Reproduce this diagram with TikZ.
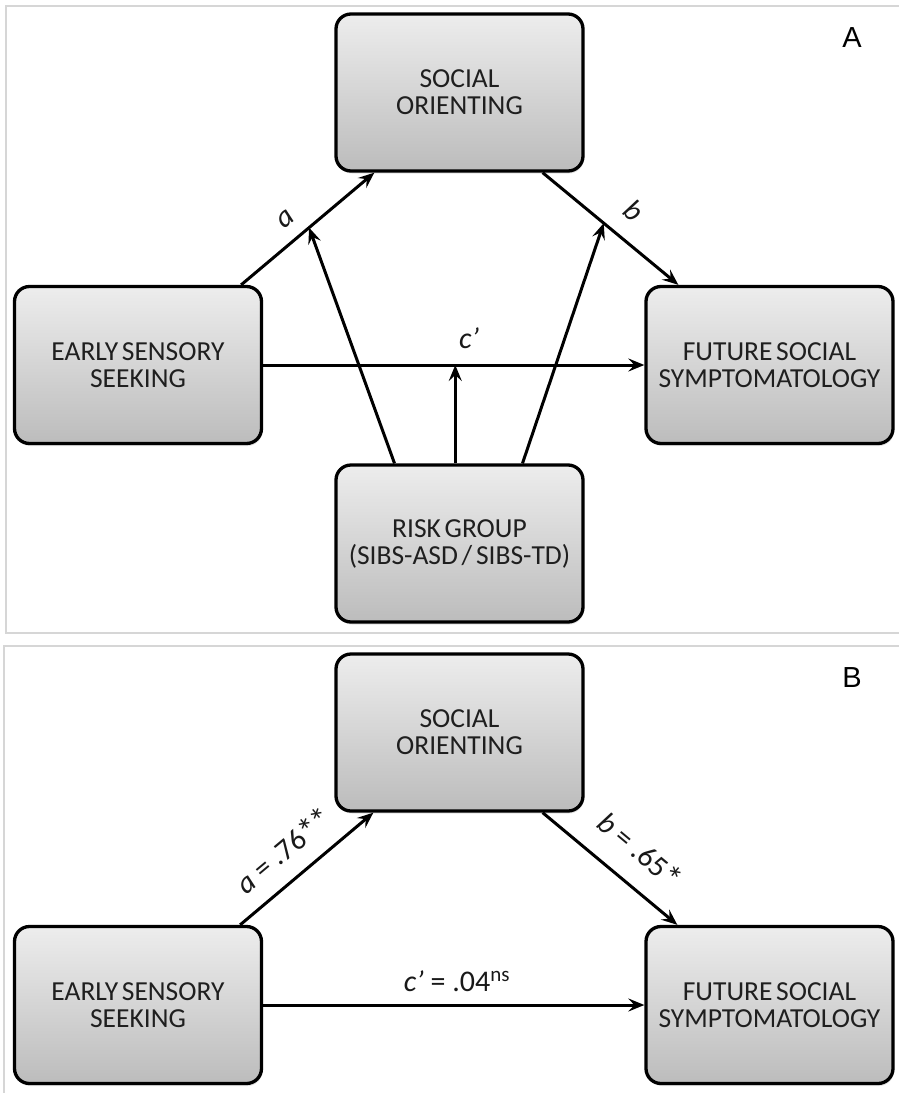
\documentclass[tikz,border=0pt]{standalone}
\usepackage{fontspec}
\setmainfont{Carlito}
\newfontfamily\boxfont[WordSpace=0.6]{Carlito}
\newfontfamily\lettfont{Liberation Sans}
\usetikzlibrary{arrows.meta,shadows}
\definecolor{frameg}{HTML}{D6D6D6}
\definecolor{boxtop}{HTML}{EDEDED}
\definecolor{boxbot}{HTML}{BCBCBC}
\newcommand\bigast{\raisebox{-0.1em}{\fontsize{35}{35}\selectfont *}}
\tikzset{
  box/.style={draw=black, line width=3.3pt, rounded corners=15pt,
    top color=boxtop, bottom color=boxbot,
    minimum width=247pt, minimum height=157pt, align=center,
    font=\boxfont\fontsize{27.5}{27}\selectfont, text=black!88,
    drop shadow={opacity=0.22, shadow xshift=1pt, shadow yshift=-2.5pt}},
  conn/.style={line width=3pt, -{Stealth[length=16pt,width=13pt,inset=6pt]}},
  lab/.style={font=\fontsize{30}{30}\selectfont, inner sep=0pt, text=black!90},
  panel/.style={draw=frameg, line width=1.6pt},
  letter/.style={font=\lettfont\fontsize{29}{30}\selectfont, inner sep=0pt}
}
\begin{document}
\begin{tikzpicture}[x=1pt,y=-1pt]
\useasboundingbox (0,0) rectangle (899,1093);
\fill[white] (0,0) rectangle (899,1093);
% panels
\draw[panel] (6,6) rectangle (906,633);
\draw[panel] (4,646) rectangle (906,1100);
\node[letter] (LA) at (852,38) {A};
\node[letter] (LB) at (852,678) {B};

% ---------- Panel A ----------
\node[box] (SA) at (459.5,92.5) {SOCIAL\\ORIENTING};
\node[box] (EA) at (138,365) {EARLY SENSORY\\SEEKING};
\node[box] (FA) at (769.5,365) {FUTURE SOCIAL\\SYMPTOMATOLOGY};
\node[box] (RA) at (459.5,543.5) {RISK GROUP\\(SIBS-ASD / SIBS-TD)};

\draw[conn] ([xshift=-22pt]EA.north east) -- ([xshift=40pt]SA.south west) coordinate[pos=0.51] (am);
\draw[conn] ([xshift=-42pt]SA.south east) -- ([xshift=34pt]FA.north west) coordinate[pos=0.45] (bm);
\draw[conn] (EA.east) -- (FA.west) coordinate[pos=0.504] (cm);
\draw[conn] ([xshift=-65pt]RA.north) -- (am);
\draw[conn] (RA.north -| cm) -- (cm);
\draw[conn] ([xshift=63pt]RA.north) -- (bm);

\node[lab, rotate=40] (la) at (286,219) {\itshape a};
\node[lab, rotate=-40] (lb) at (634,211) {\itshape b};
\node[lab, anchor=base] (lc) at (469,348) {\itshape c’};

% ---------- Panel B ----------
\node[box] (SB) at (459.5,732.5) {SOCIAL\\ORIENTING};
\node[box] (EB) at (138,1005) {EARLY SENSORY\\SEEKING};
\node[box] (FB) at (769.5,1005) {FUTURE SOCIAL\\SYMPTOMATOLOGY};

\draw[conn] ([xshift=-23pt]EB.north east) -- ([xshift=39pt]SB.south west);
\draw[conn] ([xshift=-42pt]SB.south east) -- ([xshift=33pt]FB.north west);
\draw[conn] (EB.east) -- (FB.west);

\node[lab, rotate=40] (lba) at (284,851) {\itshape a\upshape\ = .76\bigast\kern-2pt\bigast};
\node[lab, rotate=-40] (lbb) at (640,851) {\itshape b\upshape\ = .65\bigast};
\node[lab, anchor=base] (lbc) at (457,991) {\itshape c’\upshape\ = .04\textsuperscript{ns}};
\end{tikzpicture}
\end{document}
